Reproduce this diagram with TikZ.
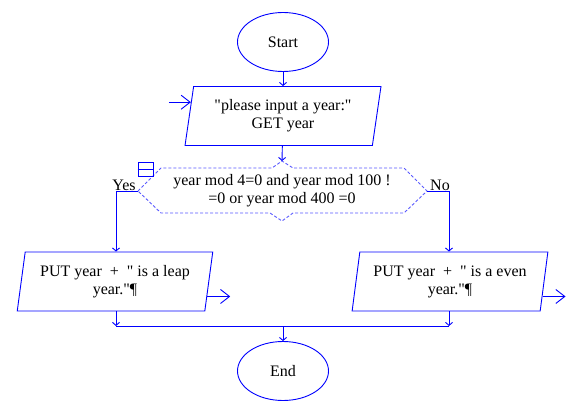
\documentclass[tikz,border=0pt]{standalone}
\usepackage{fontspec}
\setmainfont{Liberation Serif}[Ligatures=TeXOff]
\usetikzlibrary{shapes.geometric,arrows.meta,calc}

\begin{document}
\begin{tikzpicture}[x=1pt,y=-1pt,font=\fontsize{16}{18}\selectfont,
  terminal/.style={ellipse,draw=blue,line width=0.9pt,minimum width=91pt,minimum height=59pt},
  iobox/.style={trapezium,trapezium left angle=80,trapezium right angle=100,
    trapezium stretches=true,draw=blue,line width=0.9pt,
    minimum width=196pt,minimum height=59pt,align=center},
  decision/.style={draw=blue!65,line width=0.9pt,dash pattern=on 3pt off 2pt},
  conn/.style={draw=blue,line width=0.9pt},
  flow/.style={conn,-{Straight Barb[length=3pt,width=7pt]}},
  inout/.style={conn,-{Straight Barb[length=9pt,width=14pt]}},
  lbl/.style={inner sep=0pt,anchor=base}]
  \useasboundingbox (0,0) rectangle (578,414);

  \node[terminal] at (283,42) (start) {Start};
  \node[iobox] at (283,116) (input) {"please input a year:"\\GET year};

  % decision
  \node[align=center] at (282,191) (test) {year mod 4=0 and year mod 100 !\\=0 or year mod 400 =0};
  \draw[decision] (138,191) coordinate (testL) -- (161,168) -- (272,168)
    -- (282,161) coordinate (testT) -- (293,168) -- (404,168)
    -- (427,191) coordinate (testR) -- (404,213) -- (293,213)
    -- (282,221) -- (270,213) -- (161,213) -- cycle;
  \node[draw=blue,line width=0.9pt,minimum width=15pt,minimum height=14pt,inner sep=0pt]
    at (145.5,169) (icon) {};
  \draw[conn] (icon.west) -- (icon.east);

  \node[iobox] at (115,281.5) (leap) {PUT year \ + \ " is a leap\\year."¶};
  \node[iobox] at (450,281.5) (even) {PUT year \ + \ " is a even\\year."¶};
  \node[terminal] at (283,371) (end) {End};

  \node[lbl] at (124,190) (yes) {Yes};
  \node[lbl] at (440,190) (no) {No};

  \coordinate (yesBend) at (116,191);
  \coordinate (noBend) at (449,191);
  \coordinate (mergeL) at (116,326);
  \coordinate (mergeR) at (449,326);
  \coordinate (mergeC) at (283,326);

  \draw[flow] (start) -- (input);
  \draw[flow] (input) -- (testT);
  \draw[conn] (testL) -- (yesBend);
  \draw[flow] (yesBend) -- (yesBend |- leap.north);
  \draw[conn] (testR) -- (noBend);
  \draw[flow] (noBend) -- (noBend |- even.north);
  \draw[flow] (yesBend |- leap.south) -- (mergeL);
  \draw[flow] (noBend |- even.south) -- (mergeR);
  \draw[conn] (mergeL) -- (mergeR);
  \draw[flow] (mergeC) -- (end);

  % in and out arrows
  \coordinate (inPt) at ($(input.bottom left corner)!0.73!(input.top left corner)$);
  \coordinate (leapPt) at ($(leap.bottom right corner)!0.25!(leap.top right corner)$);
  \coordinate (evenPt) at ($(even.bottom right corner)!0.25!(even.top right corner)$);
  \draw[inout] ($(inPt)+(-22,0)$) coordinate (inFree) -- (inPt);
  \draw[inout] (leapPt) -- ++(23,0) coordinate (leapFree);
  \draw[inout] (evenPt) -- ++(23,0) coordinate (evenFree);

\end{tikzpicture}
\end{document}
